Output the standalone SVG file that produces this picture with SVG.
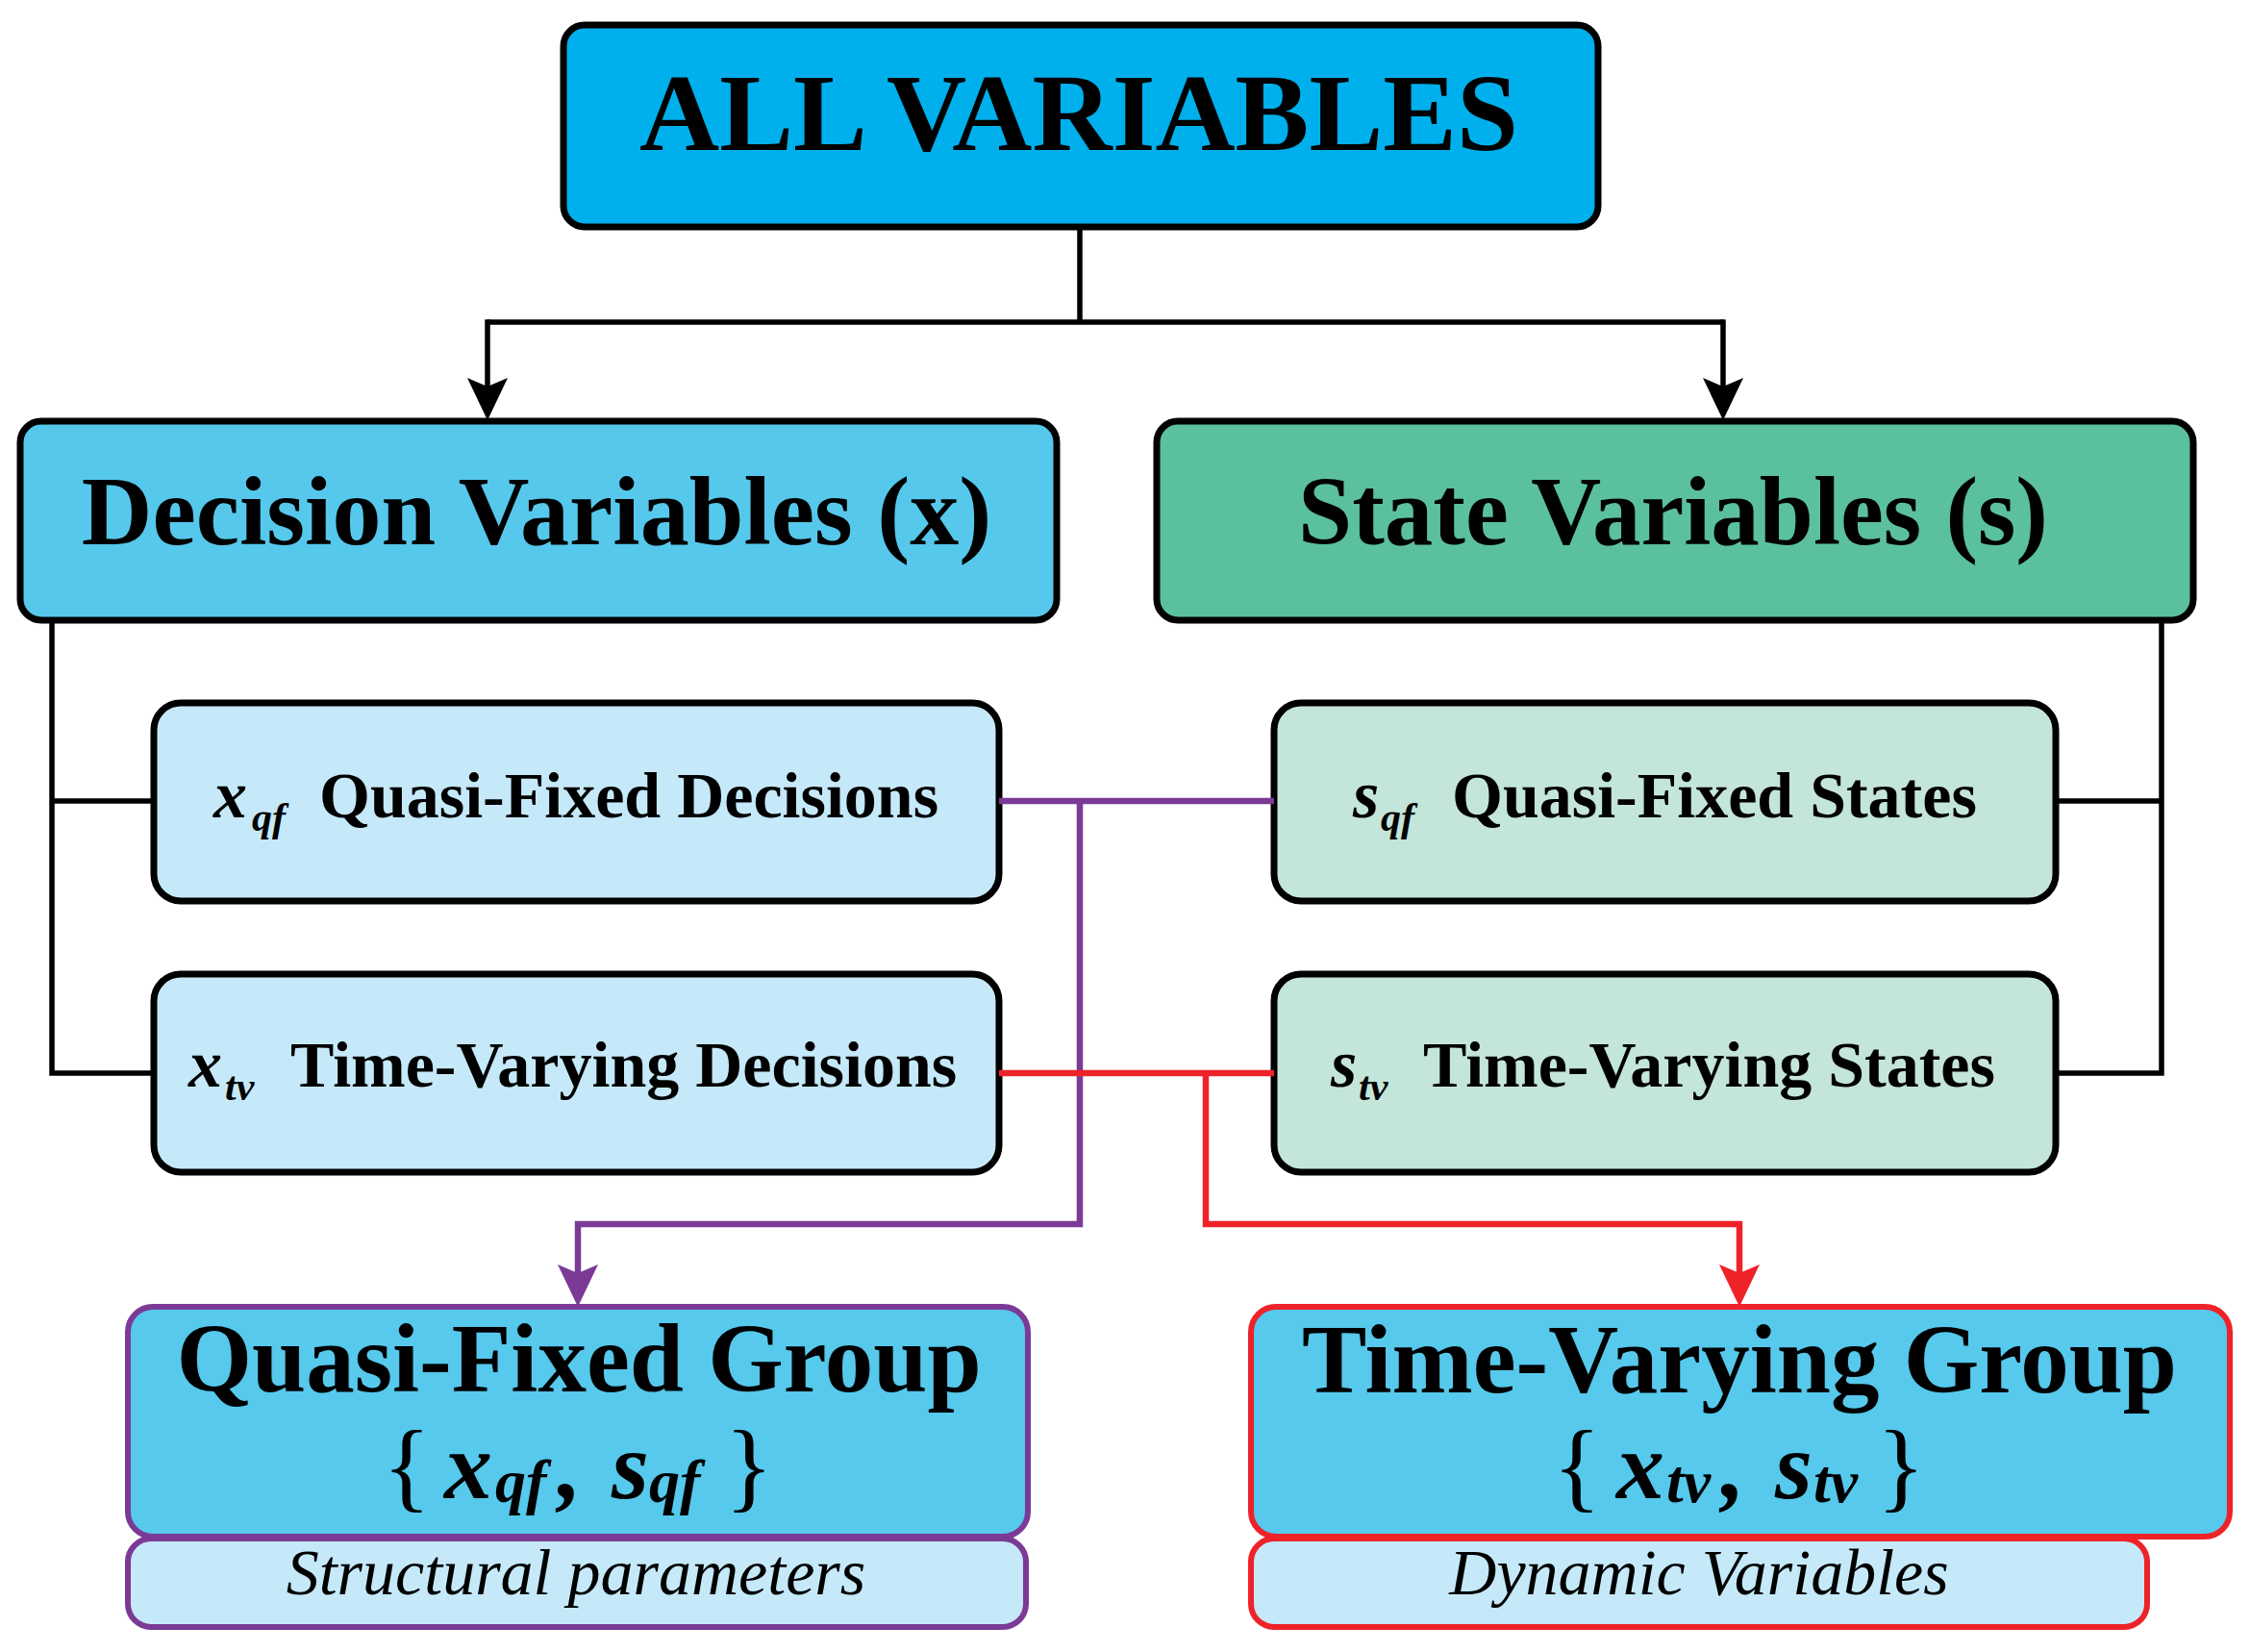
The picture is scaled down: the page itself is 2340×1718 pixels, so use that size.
<svg xmlns="http://www.w3.org/2000/svg" width="2340" height="1718" viewBox="0 0 2340 1718">
<defs>
<style>
.box{stroke:#000;stroke-width:7}
.t{font-family:"Liberation Serif","Times New Roman",serif;font-weight:bold;fill:#000}
.bi{font-family:"Liberation Serif","Times New Roman",serif;font-weight:bold;font-style:italic;fill:#000}
.i{font-family:"Liberation Serif","Times New Roman",serif;font-style:italic;fill:#000}
.r{font-family:"Liberation Serif","Times New Roman",serif;fill:#000}
.conn{fill:none;stroke-linejoin:miter;stroke-linecap:butt}
.blk{stroke:#000;stroke-width:5.5}
.pur{stroke:#7B3A96;stroke-width:6.5}
.red{stroke:#EE2229;stroke-width:6.5}
</style>
<marker id="ab" markerUnits="userSpaceOnUse" markerWidth="44" markerHeight="42" viewBox="0 0 44 42" refX="9" refY="21" orient="auto"><path d="M0,0 L44,21 L0,42 L9,21 Z" fill="#000"/></marker>
<marker id="ap" markerUnits="userSpaceOnUse" markerWidth="44" markerHeight="42" viewBox="0 0 44 42" refX="9" refY="21" orient="auto"><path d="M0,0 L44,21 L0,42 L9,21 Z" fill="#7B3A96"/></marker>
<marker id="ar" markerUnits="userSpaceOnUse" markerWidth="44" markerHeight="42" viewBox="0 0 44 42" refX="9" refY="21" orient="auto"><path d="M0,0 L44,21 L0,42 L9,21 Z" fill="#EE2229"/></marker>
</defs>
<rect x="0" y="0" width="2340" height="1718" fill="#fff"/>

<g id="all-variables">
<rect class="box" x="586" y="26" width="1076" height="210" rx="22" fill="#00B0EC"/>
<text class="t" x="1122" y="156" font-size="114" text-anchor="middle" textLength="914" lengthAdjust="spacingAndGlyphs">ALL VARIABLES</text>
</g>

<g id="decision-variables">
<rect class="box" x="21" y="438" width="1078" height="207" rx="22" fill="#56C8EC"/>
<text class="t" x="558" y="566" font-size="102" text-anchor="middle">Decision Variables (x)</text>
</g>

<g id="state-variables">
<rect class="box" x="1203" y="438" width="1078" height="207" rx="22" fill="#5BC09F"/>
<text class="t" x="1740" y="566" font-size="101" text-anchor="middle">State Variables (s)</text>
</g>

<g id="xqf">
<rect class="box" x="160" y="731" width="879" height="206" rx="28" fill="#C5E9F9"/>
<text class="bi" x="222" y="850" font-size="70">x</text>
<text class="bi" x="262" y="864" font-size="42">qf</text>
<text class="t" x="332" y="850" font-size="68">Quasi-Fixed Decisions</text>
</g>

<g id="xtv">
<rect class="box" x="160" y="1013" width="879" height="206" rx="28" fill="#C5E9F9"/>
<text class="bi" x="196" y="1130" font-size="70">x</text>
<text class="bi" x="234" y="1144" font-size="42">tv</text>
<text class="t" x="302" y="1130" font-size="68">Time-Varying Decisions</text>
</g>

<g id="sqf">
<rect class="box" x="1325" y="731" width="813" height="206" rx="28" fill="#C4E5D9"/>
<text class="bi" x="1407" y="850" font-size="70">s</text>
<text class="bi" x="1436" y="864" font-size="42">qf</text>
<text class="t" x="1510" y="850" font-size="68">Quasi-Fixed States</text>
</g>

<g id="stv">
<rect class="box" x="1325" y="1013" width="813" height="206" rx="28" fill="#C4E5D9"/>
<text class="bi" x="1384" y="1130" font-size="70">s</text>
<text class="bi" x="1413" y="1144" font-size="42">tv</text>
<text class="t" x="1480" y="1130" font-size="68">Time-Varying States</text>
</g>

<g id="quasi-fixed-group">
<rect x="133" y="1600" width="934" height="92" rx="24" fill="#C5E9F9" stroke="#7B3A96" stroke-width="6"/>
<rect x="133" y="1359" width="936" height="239" rx="26" fill="#56C9EC" stroke="#7B3A96" stroke-width="6"/>
<text class="t" x="602" y="1447" font-size="101" text-anchor="middle">Quasi-Fixed Group</text>
<text class="r" x="398" y="1559" font-size="104">{</text>
<text class="bi" x="462" y="1558" font-size="100">x</text>
<text class="bi" x="515" y="1562" font-size="64">qf</text>
<text class="bi" x="580" y="1558" font-size="100">,</text>
<text class="bi" x="636" y="1558" font-size="100">s</text>
<text class="bi" x="675" y="1562" font-size="64">qf</text>
<text class="r" x="754" y="1559" font-size="104">}</text>
<text class="i" x="599" y="1658" font-size="68" text-anchor="middle">Structural parameters</text>
</g>

<g id="time-varying-group">
<rect x="1301" y="1600" width="932" height="92" rx="24" fill="#C5E9F9" stroke="#EE2229" stroke-width="6"/>
<rect x="1301" y="1359" width="1018" height="239" rx="26" fill="#56C9EC" stroke="#EE2229" stroke-width="6"/>
<text class="t" x="1809" y="1448" font-size="101" text-anchor="middle">Time-Varying Group</text>
<text class="r" x="1615" y="1559" font-size="104">{</text>
<text class="bi" x="1681" y="1558" font-size="100">x</text>
<text class="bi" x="1733" y="1562" font-size="64">tv</text>
<text class="bi" x="1790" y="1558" font-size="100">,</text>
<text class="bi" x="1846" y="1558" font-size="100">s</text>
<text class="bi" x="1886" y="1562" font-size="64">tv</text>
<text class="r" x="1952" y="1559" font-size="104">}</text>
<text class="i" x="1767" y="1658" font-size="68" text-anchor="middle">Dynamic Variables</text>
</g>

<g id="connectors">
<path class="conn blk" d="M1123,236 V335 M507,335 H1792"/>
<path class="conn blk" d="M507,332.25 V402" marker-end="url(#ab)"/>
<path class="conn blk" d="M1792,332.25 V402" marker-end="url(#ab)"/>
<path class="conn blk" d="M54,645 V1116 H160 M54,833 H160"/>
<path class="conn blk" d="M2248,645 V1116 H2138 M2248,833 H2138"/>
<path class="conn pur" d="M1039,833 H1325"/>
<path class="conn pur" d="M1123,833 V1273 H601 V1324" marker-end="url(#ap)"/>
<path class="conn red" d="M1039,1116 H1325"/>
<path class="conn red" d="M1254,1116 V1273 H1809 V1324" marker-end="url(#ar)"/>
</g>
</svg>
